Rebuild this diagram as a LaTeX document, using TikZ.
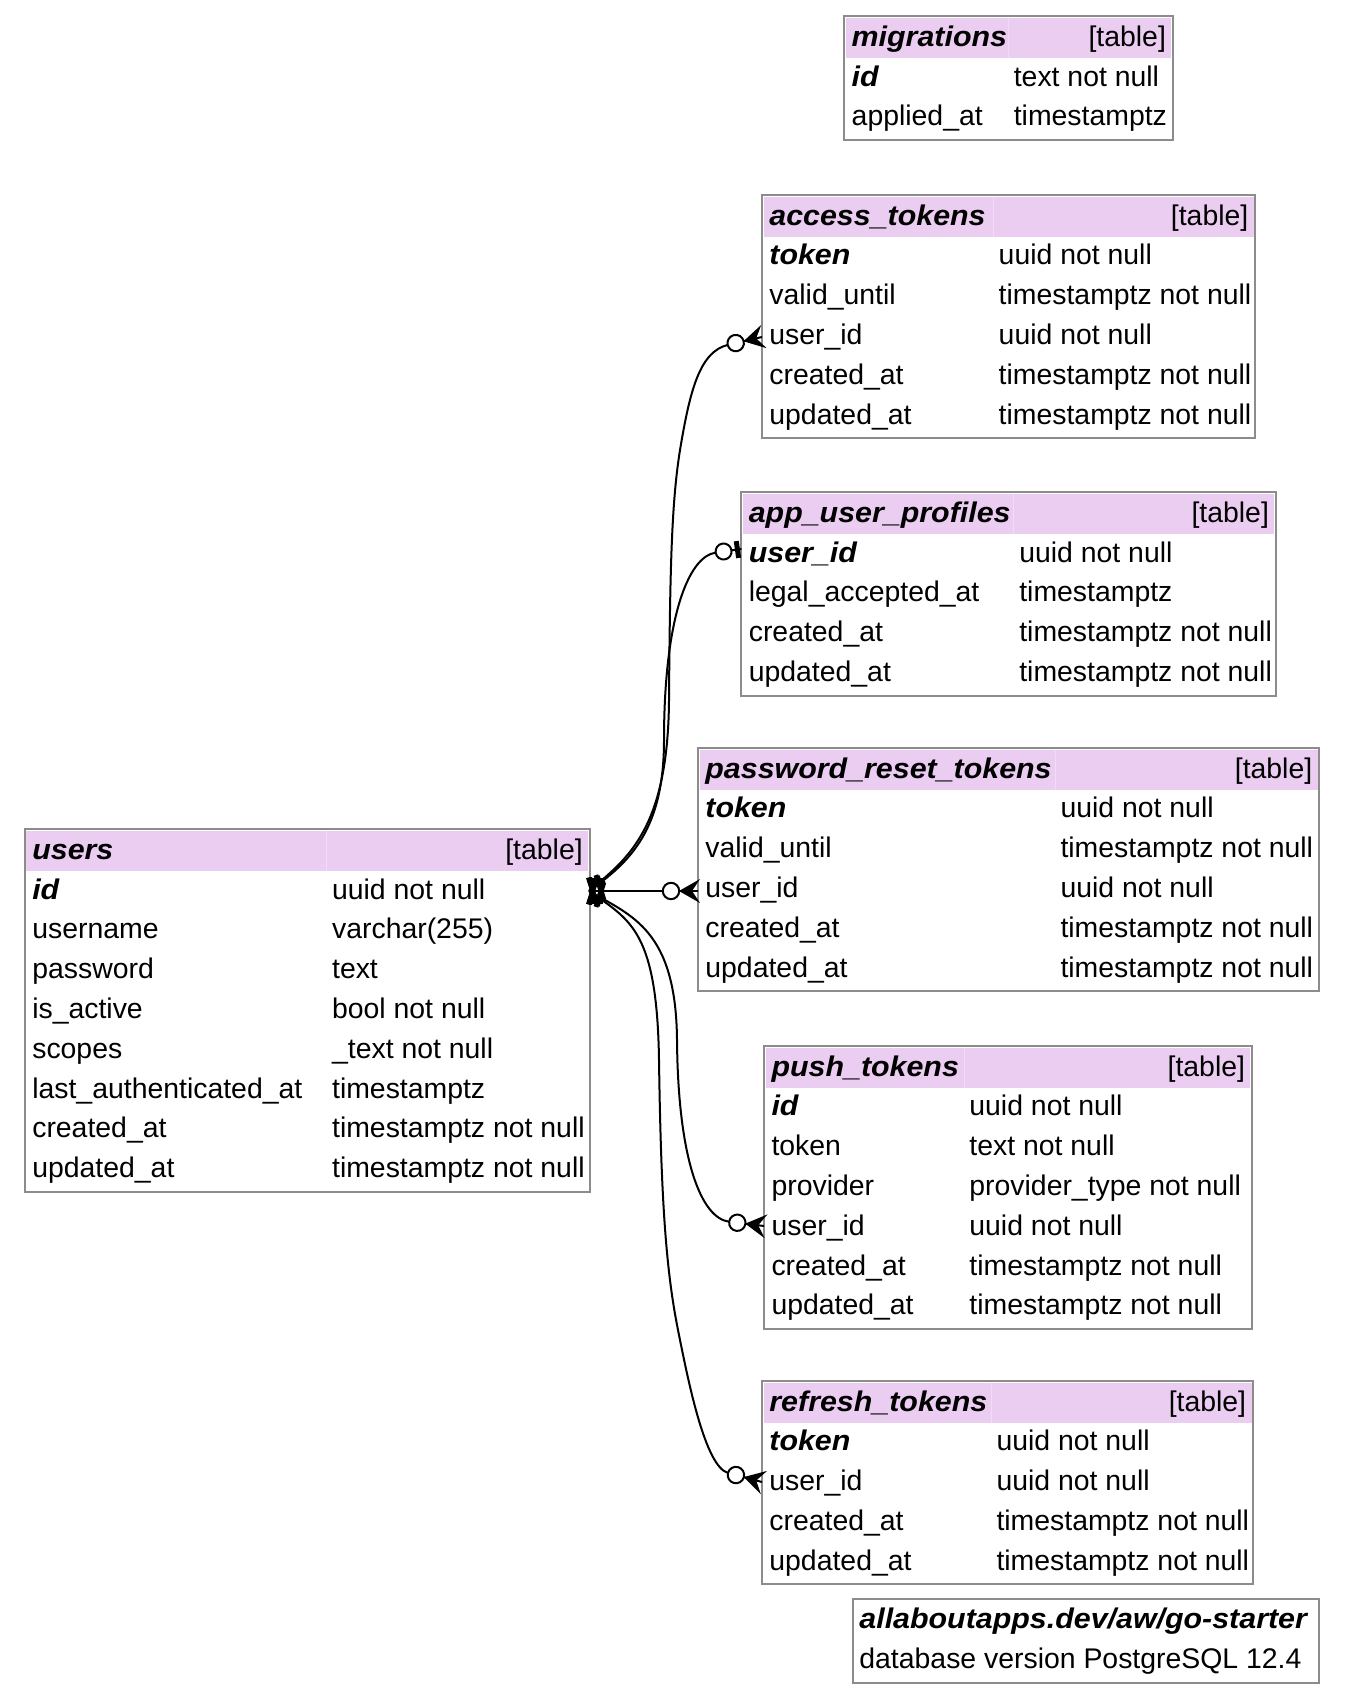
\documentclass[tikz,border=0pt]{standalone}
\usepackage{fontspec}
\setmainfont{Liberation Sans}
\newfontfamily\keyfont{Liberation Sans}[FakeStretch=1.07]
\usetikzlibrary{calc}
\definecolor{hdrfill}{HTML}{EBCDF2}
\definecolor{bordergray}{HTML}{8C8C8C}
\tikzset{
  tblborder/.style={draw=bordergray, line width=1pt},
  cell/.style={inner sep=0pt, anchor=base west, font=\fontsize{14.2}{17}\selectfont},
  cellr/.style={inner sep=0pt, anchor=base east, font=\fontsize{14.2}{17}\selectfont},
  keyt/.style={font=\keyfont\fontsize{14.2}{17}\selectfont\bfseries\itshape},
  plaint/.style={},
  rel/.style={line width=1pt, black},
  onebar/.style={line width=2.4pt, black},
  ocircle/.style={line width=1pt, draw=black, fill=white},
}
% crow + circle marker, local x axis pointing away from the table
% #1 coordinate name for the edge end
\newcommand\crowmark[1]{%
  \draw[rel] (0,0) -- (19,0);
  \fill (19,0) -- (-2,12) -- (6,0) -- (-2,-12) -- cycle;
  \draw[ocircle] (27,0) circle[radius=8.2];
  \coordinate (#1) at (35.2,0);
}
% #1 prefix #2 L #3 T #4 R #5 colx #6 nrows #7 title
\newcommand\dbtable[7]{%
  \draw[tblborder] (#2,#3) rectangle (#4,{#3+4.4+#6*39.8});
  \fill[hdrfill] ({#2+1.5},{#3+2}) rectangle ({#4-1.5},{#3+2.2+39.8});
  \draw[white!30!hdrfill, line width=0.5pt] ({#5-5},{#3+2}) -- ({#5-5},{#3+42});
  \node[cell,keyt] (#1-title) at ({#2+7},{#3+2.2+19.9+8}) {#7};
  \node[cellr] (#1-kind) at ({#4-6.5},{#3+2.2+19.9+8}) {[table]};
}
% #1 prefix #2 index #3 L #4 T #5 colx #6 style #7 name #8 type
\newcommand\dbrow[8]{%
  \node[cell,#6] (#1-n#2) at ({#3+7},{#4+2.2+(#2+0.5)*39.8+8}) {#7};
  \node[cell] (#1-t#2) at (#5,{#4+2.2+(#2+0.5)*39.8+8}) {#8};
}
\begin{document}
\begin{tikzpicture}[x=0.5pt,y=-0.5pt]
\useasboundingbox (0,0) rectangle (1344,1700);

% migrations
\dbtable{mig}{844.3}{16.3}{1172.8}{1013.4}{3}{migrations}
\dbrow{mig}{1}{844.3}{16.3}{1013.4}{keyt}{id}{text not null}
\dbrow{mig}{2}{844.3}{16.3}{1013.4}{plaint}{applied\_at}{timestamptz}

% access_tokens
\dbtable{acc}{762}{195.1}{1255.2}{998.3}{6}{access\_tokens}
\dbrow{acc}{1}{762}{195.1}{998.3}{keyt}{token}{uuid not null}
\dbrow{acc}{2}{762}{195.1}{998.3}{plaint}{valid\_until}{timestamptz not null}
\dbrow{acc}{3}{762}{195.1}{998.3}{plaint}{user\_id}{uuid not null}
\dbrow{acc}{4}{762}{195.1}{998.3}{plaint}{created\_at}{timestamptz not null}
\dbrow{acc}{5}{762}{195.1}{998.3}{plaint}{updated\_at}{timestamptz not null}

% app_user_profiles
\dbtable{aup}{741.4}{492.1}{1275.8}{1018.9}{5}{app\_user\_profiles}
\dbrow{aup}{1}{741.4}{492.1}{1018.9}{keyt}{user\_id}{uuid not null}
\dbrow{aup}{2}{741.4}{492.1}{1018.9}{plaint}{legal\_accepted\_at}{timestamptz}
\dbrow{aup}{3}{741.4}{492.1}{1018.9}{plaint}{created\_at}{timestamptz not null}
\dbrow{aup}{4}{741.4}{492.1}{1018.9}{plaint}{updated\_at}{timestamptz not null}

% password_reset_tokens
\dbtable{prt}{698}{747.9}{1319.1}{1060.1}{6}{password\_reset\_tokens}
\dbrow{prt}{1}{698}{747.9}{1060.1}{keyt}{token}{uuid not null}
\dbrow{prt}{2}{698}{747.9}{1060.1}{plaint}{valid\_until}{timestamptz not null}
\dbrow{prt}{3}{698}{747.9}{1060.1}{plaint}{user\_id}{uuid not null}
\dbrow{prt}{4}{698}{747.9}{1060.1}{plaint}{created\_at}{timestamptz not null}
\dbrow{prt}{5}{698}{747.9}{1060.1}{plaint}{updated\_at}{timestamptz not null}

% push_tokens
\dbtable{pt}{764.1}{1046}{1251.9}{969}{7}{push\_tokens}
\dbrow{pt}{1}{764.1}{1046}{969}{keyt}{id}{uuid not null}
\dbrow{pt}{2}{764.1}{1046}{969}{plaint}{token}{text not null}
\dbrow{pt}{3}{764.1}{1046}{969}{plaint}{provider}{provider\_type not null}
\dbrow{pt}{4}{764.1}{1046}{969}{plaint}{user\_id}{uuid not null}
\dbrow{pt}{5}{764.1}{1046}{969}{plaint}{created\_at}{timestamptz not null}
\dbrow{pt}{6}{764.1}{1046}{969}{plaint}{updated\_at}{timestamptz not null}

% refresh_tokens
\dbtable{rt}{762}{1380.9}{1253}{996.1}{5}{refresh\_tokens}
\dbrow{rt}{1}{762}{1380.9}{996.1}{keyt}{token}{uuid not null}
\dbrow{rt}{2}{762}{1380.9}{996.1}{plaint}{user\_id}{uuid not null}
\dbrow{rt}{3}{762}{1380.9}{996.1}{plaint}{created\_at}{timestamptz not null}
\dbrow{rt}{4}{762}{1380.9}{996.1}{plaint}{updated\_at}{timestamptz not null}

% users
\dbtable{usr}{24.9}{829.2}{589.6}{331.7}{9}{users}
\dbrow{usr}{1}{24.9}{829.2}{331.7}{keyt}{id}{uuid not null}
\dbrow{usr}{2}{24.9}{829.2}{331.7}{plaint}{username}{varchar(255)}
\dbrow{usr}{3}{24.9}{829.2}{331.7}{plaint}{password}{text}
\dbrow{usr}{4}{24.9}{829.2}{331.7}{plaint}{is\_active}{bool not null}
\dbrow{usr}{5}{24.9}{829.2}{331.7}{plaint}{scopes}{\_text not null}
\dbrow{usr}{6}{24.9}{829.2}{331.7}{plaint}{last\_authenticated\_at}{timestamptz}
\dbrow{usr}{7}{24.9}{829.2}{331.7}{plaint}{created\_at}{timestamptz not null}
\dbrow{usr}{8}{24.9}{829.2}{331.7}{plaint}{updated\_at}{timestamptz not null}

% footer
\draw[tblborder] (853,1598.8) rectangle (1319.1,{1598.8+4.4+2*39.8});
\node[cell,keyt] (foot-1) at (859,{1598.8+2.2+0.5*39.8+8}) {allaboutapps.dev/aw/go-starter};
\node[cell] (foot-2) at (859,{1598.8+2.2+1.5*39.8+8}) {database version PostgreSQL 12.4};

% connector anchor on users.id
\coordinate (usr-id-e) at (589,891);

% markers at child tables (crow + circle)
\begin{scope}[shift={(762,337)}, rotate=193]
  \crowmark{acc-in}
\end{scope}
\begin{scope}[shift={(741.4,549)}, rotate=188]
  \draw[rel] (0,0) -- (10,0);
  \fill (1.5,-8.5) rectangle (6.5,8.5);
  \draw[ocircle] (18,0) circle[radius=8];
  \coordinate (aup-in) at (26,0);
\end{scope}
\begin{scope}[shift={(698,891)}, rotate=180]
  \crowmark{prt-in}
\end{scope}
\begin{scope}[shift={(764.1,1226)}, rotate=173]
  \crowmark{pt-in}
\end{scope}
\begin{scope}[shift={(762,1482)}, rotate=165]
  \crowmark{rt-in}
\end{scope}

% connectors
\draw[rel] (usr-id-e) .. controls +(38,-32) and (668,830) .. (669,700)
  .. controls (670,560) and (672,500) .. (680,450)
  .. controls (690,390) and +(-28,7) .. (acc-in);
\draw[rel] (usr-id-e) .. controls +(41,-29) and (664,830) .. (664,740)
  .. controls (664,620) and +(-28,4) .. (aup-in);
\draw[rel] (usr-id-e) -- (prt-in);
\draw[rel] (usr-id-e) .. controls +(43,25) and (676,930) .. (677,1040)
  .. controls (678,1160) and +(-28,-3.5) .. (pt-in);
\draw[rel] (usr-id-e) .. controls +(41,29) and (657,930) .. (659,1060)
  .. controls (661,1200) and (666,1270) .. (678,1330)
  .. controls (688,1380) and +(-23,-6.2) .. (rt-in);

% one-and-only-one bars at users end
\foreach \ang in {18,12,0,-12,-18}{
  \begin{scope}[shift={(usr-id-e)}, rotate=\ang]
    \draw[onebar] (3.5,-13) -- (3.5,13) (11.5,-13) -- (11.5,13);
  \end{scope}
}
\end{tikzpicture}
\end{document}
